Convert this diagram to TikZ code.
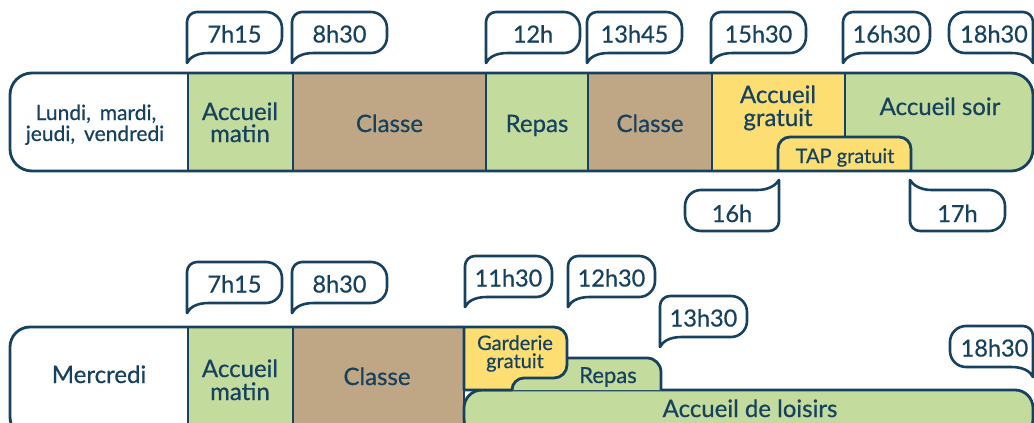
\documentclass[tikz,border=0pt]{standalone}
\usepackage{fontspec}
\setmainfont{Lato}[FakeBold=0.6]
\definecolor{ink}{HTML}{17425F}
\definecolor{grn}{HTML}{C4DB9E}
\definecolor{brn}{HTML}{BFA685}
\definecolor{yel}{HTML}{FCDE73}
\tikzset{
  bub/.style={draw=ink, line width=2.6pt, fill=white, line join=round},
  edge/.style={draw=ink, line width=2.8pt, line join=round},
  tm/.style={text=ink, font=\fontsize{23.5}{24}\selectfont, inner sep=0pt, anchor=base},
  lbl/.style={text=ink, font=\fontsize{24}{23}\selectfont, inner sep=0pt, anchor=base},
  day/.style={text=ink, font=\fontsize{21}{22}\selectfont, inner sep=0pt, anchor=base},
  sml/.style={text=ink, font=\fontsize{20}{20}\selectfont, inner sep=0pt, anchor=base},
  mid/.style={text=ink, font=\fontsize{22}{22}\selectfont, inner sep=0pt, anchor=base},
}
% bubble, tail at bottom-left: x, xr, yt, name, text
\newcommand\bubBL[5]{%
  \draw[bub] (#1,#3+51) -- (#1,#3+10) arc(180:270:10) -- (#2-16,#3) arc(270:360:16)
    -- (#2,#3+25) arc(0:90:16) -- (#1+22,#3+41)
    .. controls (#1+10,#3+41) and (#1+3,#3+45) .. (#1,#3+51) -- cycle;
  \node[tm] (#4) at ({(#1+#2)/2},#3+30.5) {#5};}
% bubble, tail at bottom-right
\newcommand\bubBR[5]{%
  \draw[bub] (#2,#3+51) -- (#2,#3+10) arc(0:-90:10) -- (#1+16,#3) arc(270:180:16)
    -- (#1,#3+25) arc(180:90:16) -- (#2-22,#3+41)
    .. controls (#2-10,#3+41) and (#2-3,#3+45) .. (#2,#3+51) -- cycle;
  \node[tm] (#4) at ({(#1+#2)/2+3},#3+30.5) {#5};}
% bubble, tail at top-right
\newcommand\bubTR[5]{%
  \draw[bub] (#2,#3-10) -- (#2,#3+31) arc(0:90:10) -- (#1+16,#3+41) arc(90:180:16)
    -- (#1,#3+16) arc(180:270:16) -- (#2-22,#3)
    .. controls (#2-10,#3) and (#2-3,#3-5) .. (#2,#3-10) -- cycle;
  \node[tm] (#4) at ({(#1+#2)/2},#3+32) {#5};}
% bubble, tail at top-left
\newcommand\bubTL[5]{%
  \draw[bub] (#1,#3-10) -- (#1,#3+31) arc(180:90:10) -- (#2-16,#3+41) arc(90:0:16)
    -- (#2,#3+16) arc(0:-90:16) -- (#1+22,#3)
    .. controls (#1+10,#3) and (#1+3,#3-5) .. (#1,#3-10) -- cycle;
  \node[tm] (#4) at ({(#1+#2)/2},#3+32) {#5};}
\begin{document}
\begin{tikzpicture}[x=1pt,y=-1pt]
\useasboundingbox (0,0) rectangle (1034,423);
\clip (0,0) rectangle (1034,423);
\fill[white] (0,0) rectangle (1034,423);

% ===== Top row =====
\begin{scope}
  \clip[rounded corners=22pt] (10,73) rectangle (1033,171);
  \fill[white] (10,73) rectangle (188,171);
  \fill[grn] (188,73) rectangle (293,171);
  \fill[brn] (293,73) rectangle (486,171);
  \fill[grn] (486,73) rectangle (588,171);
  \fill[brn] (588,73) rectangle (712,171);
  \fill[yel] (712,73) rectangle (845,171);
  \fill[grn] (845,73) rectangle (1033,171);
\end{scope}
\draw[edge] (188,73) -- (188,171);
\draw[edge] (293,73) -- (293,171);
\draw[edge] (486,73) -- (486,171);
\draw[edge] (588,73) -- (588,171);
\draw[edge] (712,73) -- (712,171);
\draw[edge] (845,73) -- (845,137);
\filldraw[edge, fill=yel] (778,171) -- (778,149) arc(180:270:12) -- (899,137) arc(270:360:12) -- (911,171);
\draw[edge, rounded corners=22pt] (10,73) rectangle (1033,171);

\node[day] (l1) at (96,120) {Lundi,\, mardi,};
\node[day] (l2) at (95,141) {jeudi,\, vendredi};
\node[lbl] (am1) at (240,120) {Accueil};
\node[lbl] (am2) at (240,142) {matin};
\node[lbl] (cl1) at (389.5,132) {Classe};
\node[lbl] (rp1) at (537,132) {Repas};
\node[lbl] (cl2) at (650,132) {Classe};
\node[lbl] (ag1) at (778,103) {Accueil};
\node[lbl] (ag2) at (778,126) {gratuit};
\node[lbl] (as) at (940,115) {Accueil soir};
\node[sml] (tap) at (845,163) {TAP gratuit};

\bubBL{187}{282}{12}{t715}{7h15}
\bubBL{292}{387}{12}{t830}{8h30}
\bubBL{486}{580}{12}{t12}{12h}
\bubBL{587}{682}{12}{t1345}{13h45}
\bubBL{711}{806}{12}{t1530}{15h30}
\bubBL{843}{930}{12}{t1630}{16h30}
\bubBR{949}{1033}{12}{t1830}{18h30}
\bubTR{685}{779}{190}{t16}{16h}
\bubTL{910}{1005}{190}{t17}{17h}

% ===== Bottom row =====
\begin{scope}
  \clip[rounded corners=22pt] (10,327) rectangle (1033,437);
  \fill[white] (10,327) rectangle (188,437);
  \fill[grn] (188,327) rectangle (293,437);
  \fill[brn] (293,327) rectangle (464,437);
\end{scope}
\filldraw[edge, fill=grn, rounded corners=18pt] (464,390) rectangle (1033,437);
\draw[edge] (464,327) -- (30,327) arc(270:180:20) -- (10,417) arc(180:90:20) -- (464,437);
\draw[edge] (188,327) -- (188,437);
\draw[edge] (293,327) -- (293,437);
\draw[edge] (464,327) -- (464,437);
\fill[grn] (500,390) -- (500,358) -- (647,358) arc(270:360:14) -- (661,372) -- (661,390) -- cycle;
\draw[edge] (550,358) -- (647,358) arc(270:360:14) -- (661,372) -- (661,390);
\filldraw[edge, fill=yel] (464,327) -- (554,327) arc(270:360:13) -- (567,365) arc(0:90:13)
  -- (524,378) arc(270:180:12) -- (512,390) -- (464,390) -- cycle;

\node[lbl] (me) at (99,383) {Mercredi};
\node[lbl] (bm1) at (240,377) {Accueil};
\node[lbl] (bm2) at (240,400) {matin};
\node[lbl] (bcl) at (377,385) {Classe};
\node[sml] (ga1) at (515,350) {Garderie};
\node[sml] (ga2) at (515,368) {gratuit};
\node[mid] (brp) at (608,383) {Repas};
\node[lbl] (adl) at (750,417) {Accueil de loisirs};

\bubBL{187}{282}{262}{b715}{7h15}
\bubBL{292}{387}{262}{b830}{8h30}
\bubBL{465}{552}{256}{b1130}{11h30}
\bubBL{568}{655}{256}{b1230}{12h30}
\bubBL{660}{747}{296}{b1330}{13h30}
\bubBR{950}{1033}{326}{b1830}{18h30}
\end{tikzpicture}
\end{document}
